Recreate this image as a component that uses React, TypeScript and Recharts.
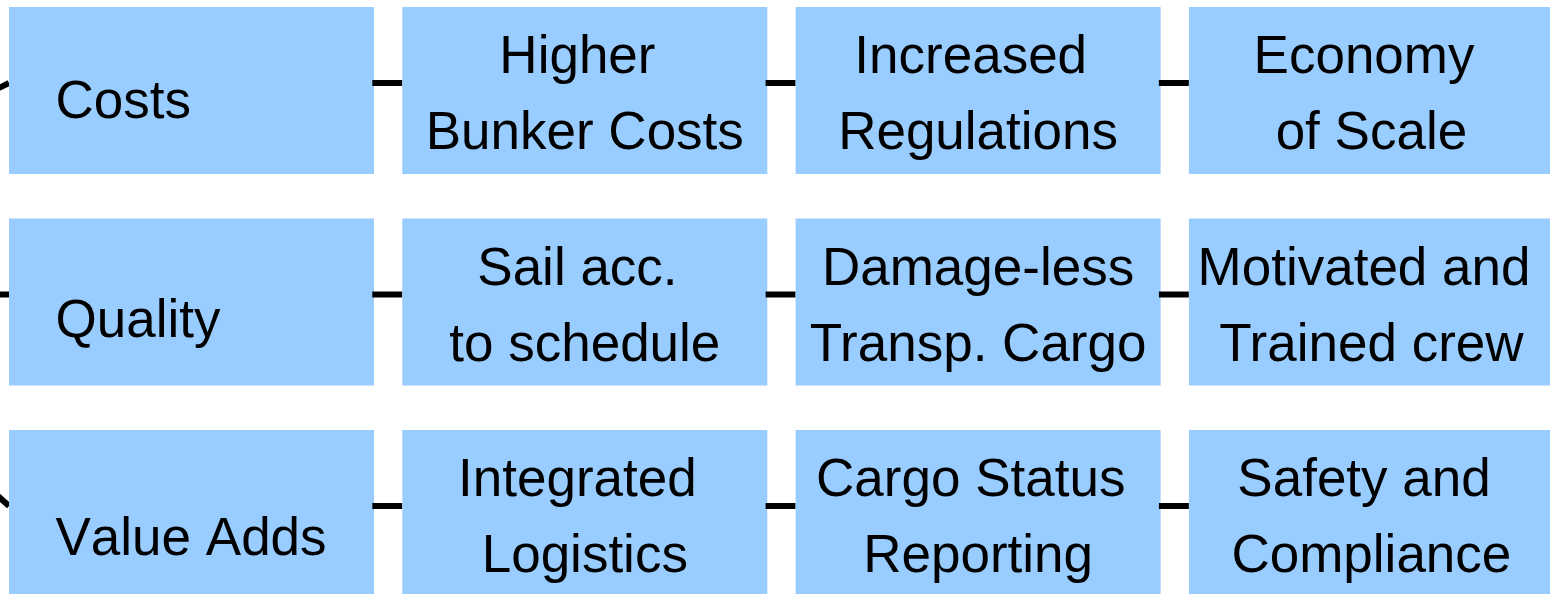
import React from 'react';
import { ScatterChart, Scatter, XAxis, YAxis } from 'recharts';

// row headers (first column) and the three driver boxes for each row
const categories = ['Costs', 'Quality', 'Value Adds'];
const costsDrivers = [['Higher ', 'Bunker Costs'], ['Increased ', 'Regulations'], ['Economy ', 'of Scale']];
const qualityDrivers = [['Sail acc. ', 'to schedule'], ['Damage-less', 'Transp. Cargo'], ['Motivated and ', 'Trained crew']];
const valueDrivers = [['Integrated ', 'Logistics'], ['Cargo Status ', 'Reporting'], ['Safety and ', 'Compliance']];

const drivers = [costsDrivers, qualityDrivers, valueDrivers];

const W = 1550;
const H = 594;
const BOX_W = 365;
const BOX_H = 167;
const GAP = 29;
const FILL = '#99CCFF';
const FONT = '"Liberation Sans", Arial, Helvetica, sans-serif';
const FONT_SIZE = 53;

// header baseline offset from the box top, and slope of the incoming spoke, per row
const headerBaseline = [111, 118, 125];
const spokeDy = [15, 0, -27];

const nodes = categories.flatMap((cat, row) => [
  { col: 0, row, header: cat, lines: [] as string[] },
  ...drivers[row].map((lines, i) => ({ col: i + 1, row, header: '', lines })),
]);

// domains chosen so one column = 393.3px, one row = 211.5px
const xPitch = 393.3;
const x0 = -191.5 / xPitch;
const yPitch = 211.5;
const y0 = -90.5 / yPitch;

function BoxShape(props: any) {
  const { cx, cy, payload } = props;
  const left = cx - BOX_W / 2;
  const top = cy - BOX_H / 2;
  const lineY = cy - 7.5;
  return (
    <g>
      {payload.col === 0 ? (
        <line x1={left - 30} y1={lineY + spokeDy[payload.row]} x2={left} y2={lineY} stroke="#000" strokeWidth={6} />
      ) : (
        <line x1={left - GAP - 1} y1={lineY} x2={left} y2={lineY} stroke="#000" strokeWidth={6} />
      )}
      <rect x={left} y={top} width={BOX_W} height={BOX_H} fill={FILL} />
      {payload.col === 0 ? (
        <text
          x={left + 46.5}
          y={top + headerBaseline[payload.row]}
          fontFamily={FONT}
          fontSize={FONT_SIZE}
          fill="#000"
          style={{ fontKerning: 'none' }}
        >
          {payload.header}
        </text>
      ) : (
        payload.lines.map((t: string, i: number) => (
          <text
            key={i}
            x={cx}
            y={top + 66 + i * 76}
            textAnchor="middle"
            fontFamily={FONT}
            fontSize={FONT_SIZE}
            fill="#000"
            style={{ whiteSpace: 'pre' }}
          >
            {t}
          </text>
        ))
      )}
    </g>
  );
}

export default function App() {
  return (
    <div style={{ position: 'absolute', left: 0, top: 0, background: '#fff' }}>
      <ScatterChart width={W} height={H} margin={{ top: 0, right: 0, bottom: 0, left: 0 }}>
        <XAxis type="number" dataKey="col" domain={[x0, x0 + W / xPitch]} allowDataOverflow hide />
        <YAxis type="number" dataKey="row" domain={[y0, y0 + H / yPitch]} allowDataOverflow reversed hide />
        <Scatter data={nodes} shape={BoxShape} isAnimationActive={false} />
      </ScatterChart>
    </div>
  );
}
